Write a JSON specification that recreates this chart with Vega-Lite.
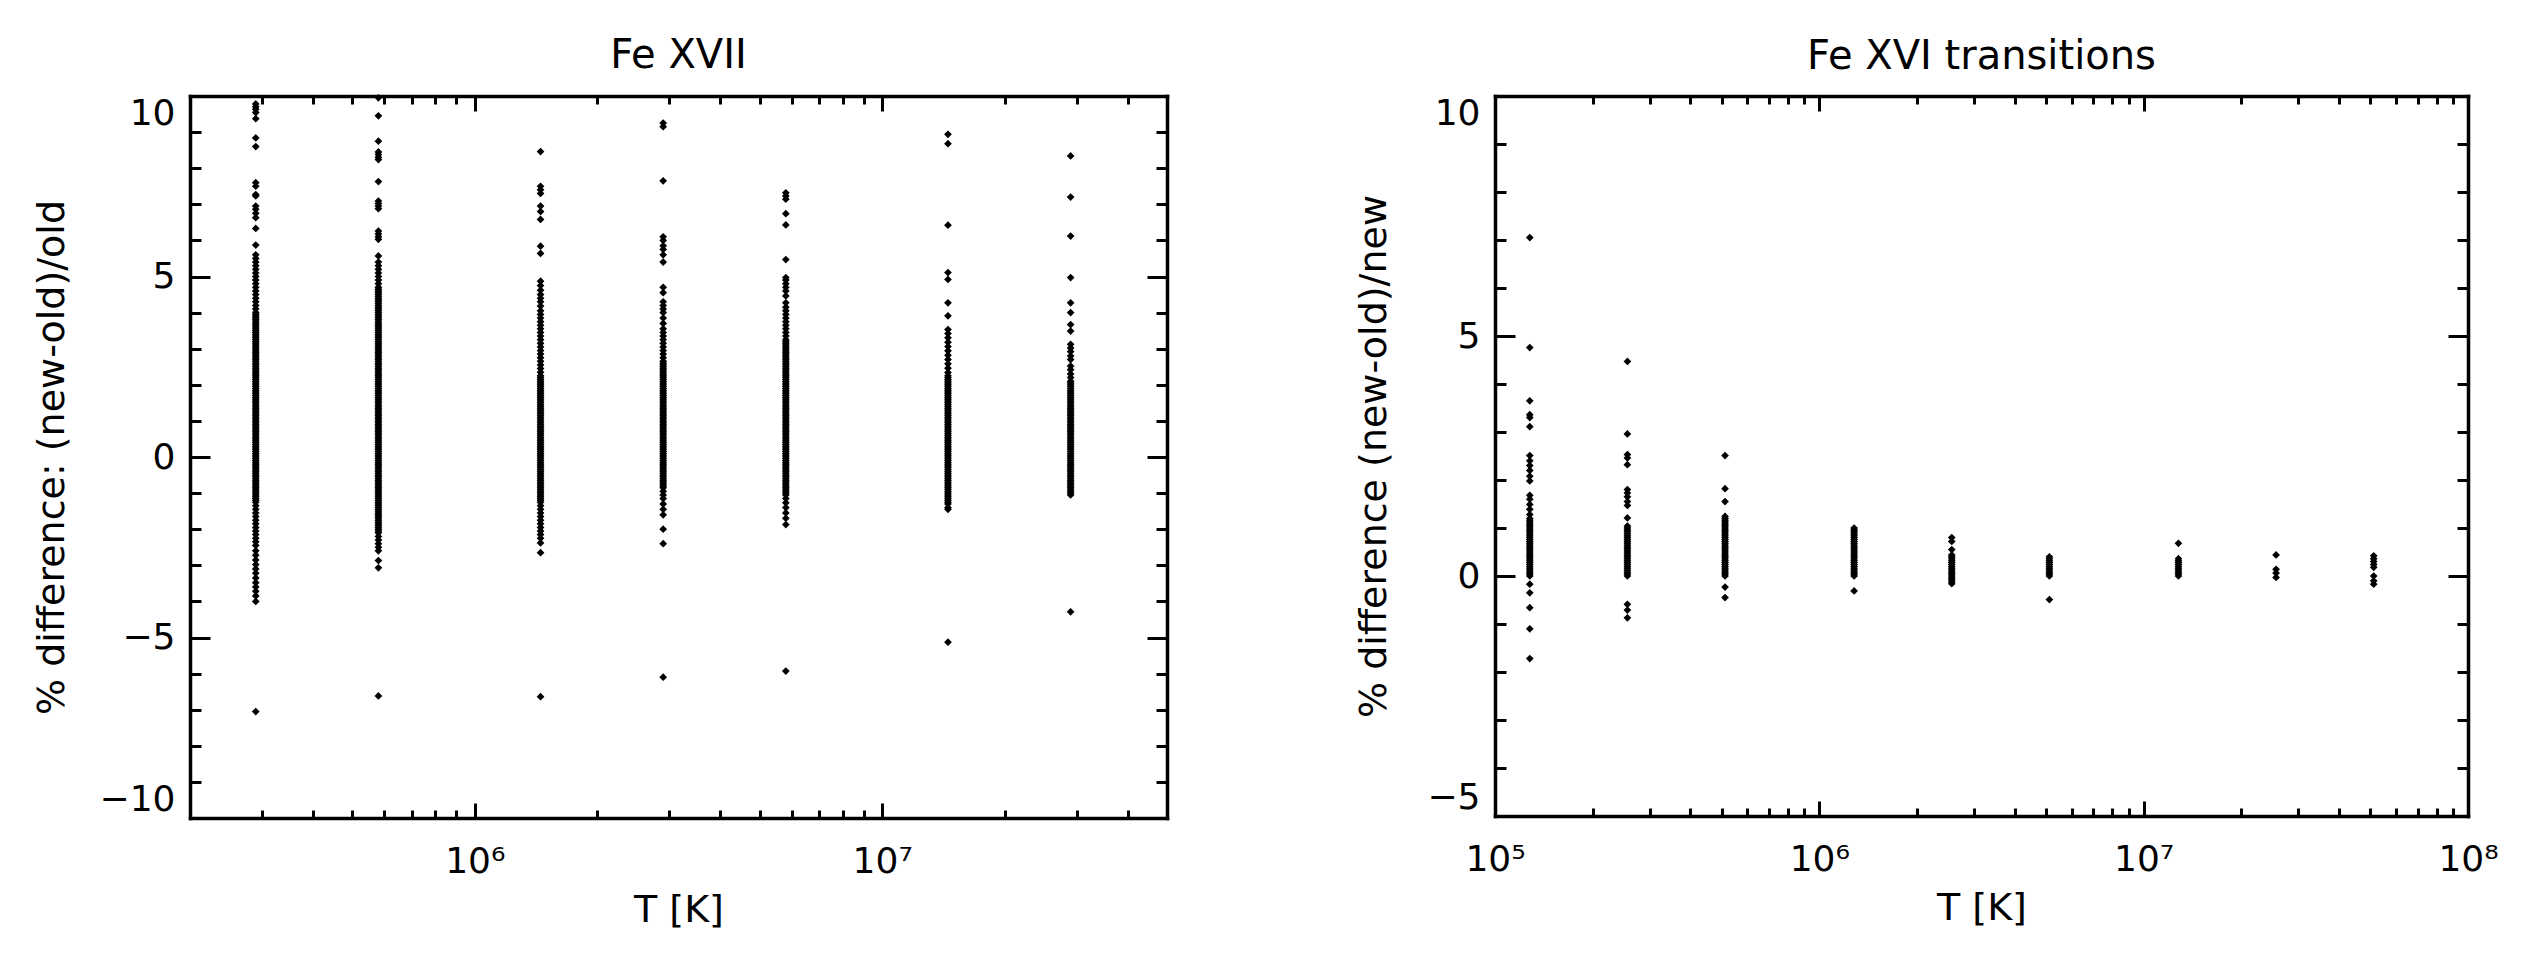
{
"$schema":"https://vega.github.io/schema/vega-lite/v6.json",
"background":"white",
"padding":{"left":33,"top":35,"right":5,"bottom":5},
"config":{
 "view":{"stroke":null},
 "font":"DejaVu Sans",
 "axis":{"grid":false,"domainColor":"black","domainWidth":3.5,"domainCap":"square","tickColor":"black","tickWidth":3,"labelColor":"black","titleColor":"black","labelFont":"DejaVu Sans","titleFont":"DejaVu Sans","labelFontSize":36,"titleFontSize":38,"titleFontWeight":"normal"},
 "title":{"font":"DejaVu Sans","fontSize":40,"fontWeight":"normal","color":"black","baseline":"alphabetic","offset":18,"anchor":"middle"}
},
"datasets":{
"fe17":[
{"T":29e4,"d":9.78},{"T":29e4,"d":9.7},{"T":29e4,"d":9.63},{"T":29e4,"d":9.54},{"T":29e4,"d":9.37},{"T":29e4,"d":8.84},{"T":29e4,"d":8.6},{"T":29e4,"d":7.6},{"T":29e4,"d":7.5},{"T":29e4,"d":7.27},{"T":29e4,"d":7.23},{"T":29e4,"d":6.95},{"T":29e4,"d":6.86},{"T":29e4,"d":6.75},{"T":29e4,"d":6.63},{"T":29e4,"d":6.33},{"T":29e4,"d":5.87},{"T":29e4,"d":5.6},{"T":29e4,"d":5.5},{"T":29e4,"d":5.4},{"T":29e4,"d":5.3},{"T":29e4,"d":5.2},{"T":29e4,"d":5.1},{"T":29e4,"d":5},{"T":29e4,"d":4.9},{"T":29e4,"d":4.8},{"T":29e4,"d":4.7},{"T":29e4,"d":4.6},{"T":29e4,"d":4.5},{"T":29e4,"d":4.4},{"T":29e4,"d":4.3},{"T":29e4,"d":4.2},{"T":29e4,"d":4.1},
{"T":29e4,"d":4},{"T":29e4,"d":3.95},{"T":29e4,"d":3.9},{"T":29e4,"d":3.85},{"T":29e4,"d":3.8},{"T":29e4,"d":3.75},{"T":29e4,"d":3.7},{"T":29e4,"d":3.65},{"T":29e4,"d":3.6},{"T":29e4,"d":3.55},{"T":29e4,"d":3.5},{"T":29e4,"d":3.45},{"T":29e4,"d":3.4},{"T":29e4,"d":3.35},{"T":29e4,"d":3.3},{"T":29e4,"d":3.25},{"T":29e4,"d":3.2},{"T":29e4,"d":3.15},{"T":29e4,"d":3.1},{"T":29e4,"d":3.05},{"T":29e4,"d":3},{"T":29e4,"d":2.95},{"T":29e4,"d":2.9},{"T":29e4,"d":2.85},{"T":29e4,"d":2.8},{"T":29e4,"d":2.75},{"T":29e4,"d":2.7},{"T":29e4,"d":2.65},{"T":29e4,"d":2.6},{"T":29e4,"d":2.55},{"T":29e4,"d":2.5},{"T":29e4,"d":2.45},{"T":29e4,"d":2.4},{"T":29e4,"d":2.35},{"T":29e4,"d":2.3},{"T":29e4,"d":2.25},{"T":29e4,"d":2.2},{"T":29e4,"d":2.15},{"T":29e4,"d":2.1},{"T":29e4,"d":2.05},{"T":29e4,"d":2},{"T":29e4,"d":1.95},{"T":29e4,"d":1.9},{"T":29e4,"d":1.85},{"T":29e4,"d":1.8},{"T":29e4,"d":1.75},{"T":29e4,"d":1.7},{"T":29e4,"d":1.65},{"T":29e4,"d":1.6},{"T":29e4,"d":1.55},{"T":29e4,"d":1.5},{"T":29e4,"d":1.45},{"T":29e4,"d":1.4},{"T":29e4,"d":1.35},{"T":29e4,"d":1.3},{"T":29e4,"d":1.25},{"T":29e4,"d":1.2},{"T":29e4,"d":1.15},{"T":29e4,"d":1.1},{"T":29e4,"d":1.05},{"T":29e4,"d":1},{"T":29e4,"d":0.95},{"T":29e4,"d":0.9},{"T":29e4,"d":0.85},{"T":29e4,"d":0.8},{"T":29e4,"d":0.75},{"T":29e4,"d":0.7},{"T":29e4,"d":0.65},{"T":29e4,"d":0.6},{"T":29e4,"d":0.55},{"T":29e4,"d":0.5},{"T":29e4,"d":0.45},{"T":29e4,"d":0.4},{"T":29e4,"d":0.35},{"T":29e4,"d":0.3},{"T":29e4,"d":0.25},{"T":29e4,"d":0.2},{"T":29e4,"d":0.15},{"T":29e4,"d":0.1},{"T":29e4,"d":0.05},{"T":29e4,"d":0},{"T":29e4,"d":-0.05},{"T":29e4,"d":-0.1},{"T":29e4,"d":-0.15},{"T":29e4,"d":-0.2},{"T":29e4,"d":-0.25},{"T":29e4,"d":-0.3},{"T":29e4,"d":-0.35},{"T":29e4,"d":-0.4},{"T":29e4,"d":-0.45},{"T":29e4,"d":-0.5},{"T":29e4,"d":-0.55},{"T":29e4,"d":-0.6},{"T":29e4,"d":-0.65},{"T":29e4,"d":-0.7},{"T":29e4,"d":-0.75},{"T":29e4,"d":-0.8},{"T":29e4,"d":-0.85},{"T":29e4,"d":-0.9},{"T":29e4,"d":-0.95},{"T":29e4,"d":-1},{"T":29e4,"d":-1.05},{"T":29e4,"d":-1.1},{"T":29e4,"d":-1.15},{"T":29e4,"d":-1.2},{"T":29e4,"d":-1.25},
{"T":29e4,"d":-1.35},{"T":29e4,"d":-1.45},{"T":29e4,"d":-1.55},{"T":29e4,"d":-1.65},{"T":29e4,"d":-1.75},{"T":29e4,"d":-1.85},{"T":29e4,"d":-1.95},{"T":29e4,"d":-2.05},{"T":29e4,"d":-2.15},{"T":29e4,"d":-2.25},{"T":29e4,"d":-2.35},{"T":29e4,"d":-2.45},{"T":29e4,"d":-2.6},{"T":29e4,"d":-2.72},{"T":29e4,"d":-2.85},{"T":29e4,"d":-2.98},{"T":29e4,"d":-3.1},{"T":29e4,"d":-3.22},{"T":29e4,"d":-3.35},{"T":29e4,"d":-3.48},{"T":29e4,"d":-3.6},{"T":29e4,"d":-3.72},{"T":29e4,"d":-3.85},{"T":29e4,"d":-4},{"T":29e4,"d":-7.05},

{"T":58e4,"d":9.95},{"T":58e4,"d":9.45},{"T":58e4,"d":8.75},{"T":58e4,"d":8.45},{"T":58e4,"d":8.38},{"T":58e4,"d":8.3},{"T":58e4,"d":8.24},{"T":58e4,"d":7.63},{"T":58e4,"d":7.09},{"T":58e4,"d":7.02},{"T":58e4,"d":6.95},{"T":58e4,"d":6.88},{"T":58e4,"d":6.26},{"T":58e4,"d":6.18},{"T":58e4,"d":6.1},{"T":58e4,"d":6.03},{"T":58e4,"d":5.57},{"T":58e4,"d":5.4},{"T":58e4,"d":5.3},{"T":58e4,"d":5.2},{"T":58e4,"d":5.1},{"T":58e4,"d":5},{"T":58e4,"d":4.9},{"T":58e4,"d":4.8},{"T":58e4,"d":4.7},
{"T":58e4,"d":4.65},{"T":58e4,"d":4.6},{"T":58e4,"d":4.55},{"T":58e4,"d":4.5},{"T":58e4,"d":4.45},{"T":58e4,"d":4.4},{"T":58e4,"d":4.35},{"T":58e4,"d":4.3},{"T":58e4,"d":4.25},{"T":58e4,"d":4.2},{"T":58e4,"d":4.15},{"T":58e4,"d":4.1},{"T":58e4,"d":4.05},{"T":58e4,"d":4},{"T":58e4,"d":3.95},{"T":58e4,"d":3.9},{"T":58e4,"d":3.85},{"T":58e4,"d":3.8},{"T":58e4,"d":3.75},{"T":58e4,"d":3.7},{"T":58e4,"d":3.65},{"T":58e4,"d":3.6},{"T":58e4,"d":3.55},{"T":58e4,"d":3.5},{"T":58e4,"d":3.45},{"T":58e4,"d":3.4},{"T":58e4,"d":3.35},{"T":58e4,"d":3.3},{"T":58e4,"d":3.25},{"T":58e4,"d":3.2},{"T":58e4,"d":3.15},{"T":58e4,"d":3.1},{"T":58e4,"d":3.05},{"T":58e4,"d":3},{"T":58e4,"d":2.95},{"T":58e4,"d":2.9},{"T":58e4,"d":2.85},{"T":58e4,"d":2.8},{"T":58e4,"d":2.75},{"T":58e4,"d":2.7},{"T":58e4,"d":2.65},{"T":58e4,"d":2.6},{"T":58e4,"d":2.55},{"T":58e4,"d":2.5},{"T":58e4,"d":2.45},{"T":58e4,"d":2.4},{"T":58e4,"d":2.35},{"T":58e4,"d":2.3},{"T":58e4,"d":2.25},{"T":58e4,"d":2.2},{"T":58e4,"d":2.15},{"T":58e4,"d":2.1},{"T":58e4,"d":2.05},{"T":58e4,"d":2},{"T":58e4,"d":1.95},{"T":58e4,"d":1.9},{"T":58e4,"d":1.85},{"T":58e4,"d":1.8},{"T":58e4,"d":1.75},{"T":58e4,"d":1.7},{"T":58e4,"d":1.65},{"T":58e4,"d":1.6},{"T":58e4,"d":1.55},{"T":58e4,"d":1.5},{"T":58e4,"d":1.45},{"T":58e4,"d":1.4},{"T":58e4,"d":1.35},{"T":58e4,"d":1.3},{"T":58e4,"d":1.25},{"T":58e4,"d":1.2},{"T":58e4,"d":1.15},{"T":58e4,"d":1.1},{"T":58e4,"d":1.05},{"T":58e4,"d":1},{"T":58e4,"d":0.95},{"T":58e4,"d":0.9},{"T":58e4,"d":0.85},{"T":58e4,"d":0.8},{"T":58e4,"d":0.75},{"T":58e4,"d":0.7},{"T":58e4,"d":0.65},{"T":58e4,"d":0.6},{"T":58e4,"d":0.55},{"T":58e4,"d":0.5},{"T":58e4,"d":0.45},{"T":58e4,"d":0.4},{"T":58e4,"d":0.35},{"T":58e4,"d":0.3},{"T":58e4,"d":0.25},{"T":58e4,"d":0.2},{"T":58e4,"d":0.15},{"T":58e4,"d":0.1},{"T":58e4,"d":0.05},{"T":58e4,"d":0},{"T":58e4,"d":-0.05},{"T":58e4,"d":-0.1},{"T":58e4,"d":-0.15},{"T":58e4,"d":-0.2},{"T":58e4,"d":-0.25},{"T":58e4,"d":-0.3},{"T":58e4,"d":-0.35},{"T":58e4,"d":-0.4},{"T":58e4,"d":-0.45},{"T":58e4,"d":-0.5},{"T":58e4,"d":-0.55},{"T":58e4,"d":-0.6},{"T":58e4,"d":-0.65},{"T":58e4,"d":-0.7},{"T":58e4,"d":-0.75},{"T":58e4,"d":-0.8},{"T":58e4,"d":-0.85},{"T":58e4,"d":-0.9},{"T":58e4,"d":-0.95},{"T":58e4,"d":-1},{"T":58e4,"d":-1.05},{"T":58e4,"d":-1.1},{"T":58e4,"d":-1.15},{"T":58e4,"d":-1.2},{"T":58e4,"d":-1.25},{"T":58e4,"d":-1.3},{"T":58e4,"d":-1.35},{"T":58e4,"d":-1.4},{"T":58e4,"d":-1.45},{"T":58e4,"d":-1.5},{"T":58e4,"d":-1.55},{"T":58e4,"d":-1.6},{"T":58e4,"d":-1.65},{"T":58e4,"d":-1.7},{"T":58e4,"d":-1.75},{"T":58e4,"d":-1.8},{"T":58e4,"d":-1.85},{"T":58e4,"d":-1.9},{"T":58e4,"d":-1.95},{"T":58e4,"d":-2},{"T":58e4,"d":-2.05},{"T":58e4,"d":-2.1},
{"T":58e4,"d":-2.2},{"T":58e4,"d":-2.3},{"T":58e4,"d":-2.4},{"T":58e4,"d":-2.5},{"T":58e4,"d":-2.6},{"T":58e4,"d":-2.87},{"T":58e4,"d":-3.07},{"T":58e4,"d":-6.62},

{"T":145e4,"d":8.46},{"T":145e4,"d":7.5},{"T":145e4,"d":7.4},{"T":145e4,"d":7.3},{"T":145e4,"d":6.95},{"T":145e4,"d":6.8},{"T":145e4,"d":6.58},{"T":145e4,"d":5.84},{"T":145e4,"d":5.64},{"T":145e4,"d":4.87},{"T":145e4,"d":4.75},{"T":145e4,"d":4.62},{"T":145e4,"d":4.5},{"T":145e4,"d":4.4},{"T":145e4,"d":4.3},{"T":145e4,"d":4.18},{"T":145e4,"d":4.05},{"T":145e4,"d":3.95},{"T":145e4,"d":3.85},{"T":145e4,"d":3.75},{"T":145e4,"d":3.65},{"T":145e4,"d":3.55},{"T":145e4,"d":3.45},{"T":145e4,"d":3.35},{"T":145e4,"d":3.25},{"T":145e4,"d":3.15},{"T":145e4,"d":3.05},{"T":145e4,"d":2.95},{"T":145e4,"d":2.85},{"T":145e4,"d":2.75},{"T":145e4,"d":2.65},{"T":145e4,"d":2.55},{"T":145e4,"d":2.45},{"T":145e4,"d":2.35},{"T":145e4,"d":2.25},
{"T":145e4,"d":2.2},{"T":145e4,"d":2.15},{"T":145e4,"d":2.1},{"T":145e4,"d":2.05},{"T":145e4,"d":2},{"T":145e4,"d":1.95},{"T":145e4,"d":1.9},{"T":145e4,"d":1.85},{"T":145e4,"d":1.8},{"T":145e4,"d":1.75},{"T":145e4,"d":1.7},{"T":145e4,"d":1.65},{"T":145e4,"d":1.6},{"T":145e4,"d":1.55},{"T":145e4,"d":1.5},{"T":145e4,"d":1.45},{"T":145e4,"d":1.4},{"T":145e4,"d":1.35},{"T":145e4,"d":1.3},{"T":145e4,"d":1.25},{"T":145e4,"d":1.2},{"T":145e4,"d":1.15},{"T":145e4,"d":1.1},{"T":145e4,"d":1.05},{"T":145e4,"d":1},{"T":145e4,"d":0.95},{"T":145e4,"d":0.9},{"T":145e4,"d":0.85},{"T":145e4,"d":0.8},{"T":145e4,"d":0.75},{"T":145e4,"d":0.7},{"T":145e4,"d":0.65},{"T":145e4,"d":0.6},{"T":145e4,"d":0.55},{"T":145e4,"d":0.5},{"T":145e4,"d":0.45},{"T":145e4,"d":0.4},{"T":145e4,"d":0.35},{"T":145e4,"d":0.3},{"T":145e4,"d":0.25},{"T":145e4,"d":0.2},{"T":145e4,"d":0.15},{"T":145e4,"d":0.1},{"T":145e4,"d":0.05},{"T":145e4,"d":0},{"T":145e4,"d":-0.05},{"T":145e4,"d":-0.1},{"T":145e4,"d":-0.15},{"T":145e4,"d":-0.2},{"T":145e4,"d":-0.25},{"T":145e4,"d":-0.3},{"T":145e4,"d":-0.35},{"T":145e4,"d":-0.4},{"T":145e4,"d":-0.45},{"T":145e4,"d":-0.5},{"T":145e4,"d":-0.55},{"T":145e4,"d":-0.6},{"T":145e4,"d":-0.65},{"T":145e4,"d":-0.7},{"T":145e4,"d":-0.75},{"T":145e4,"d":-0.8},{"T":145e4,"d":-0.85},{"T":145e4,"d":-0.9},{"T":145e4,"d":-0.95},{"T":145e4,"d":-1},{"T":145e4,"d":-1.05},{"T":145e4,"d":-1.1},{"T":145e4,"d":-1.15},{"T":145e4,"d":-1.2},{"T":145e4,"d":-1.25},
{"T":145e4,"d":-1.35},{"T":145e4,"d":-1.45},{"T":145e4,"d":-1.55},{"T":145e4,"d":-1.65},{"T":145e4,"d":-1.75},{"T":145e4,"d":-1.85},{"T":145e4,"d":-1.95},{"T":145e4,"d":-2.05},{"T":145e4,"d":-2.15},{"T":145e4,"d":-2.25},{"T":145e4,"d":-2.38},{"T":145e4,"d":-2.65},{"T":145e4,"d":-6.64},

{"T":29e5,"d":9.25},{"T":29e5,"d":9.15},{"T":29e5,"d":7.65},{"T":29e5,"d":6.1},{"T":29e5,"d":6},{"T":29e5,"d":5.85},{"T":29e5,"d":5.75},{"T":29e5,"d":5.6},{"T":29e5,"d":5.4},{"T":29e5,"d":4.7},{"T":29e5,"d":4.55},{"T":29e5,"d":4.3},{"T":29e5,"d":4.2},{"T":29e5,"d":4.1},{"T":29e5,"d":4},{"T":29e5,"d":3.85},{"T":29e5,"d":3.7},{"T":29e5,"d":3.55},{"T":29e5,"d":3.45},{"T":29e5,"d":3.35},{"T":29e5,"d":3.25},{"T":29e5,"d":3.15},{"T":29e5,"d":3.05},{"T":29e5,"d":2.95},{"T":29e5,"d":2.85},{"T":29e5,"d":2.75},
{"T":29e5,"d":2.65},{"T":29e5,"d":2.6},{"T":29e5,"d":2.55},{"T":29e5,"d":2.5},{"T":29e5,"d":2.45},{"T":29e5,"d":2.4},{"T":29e5,"d":2.35},{"T":29e5,"d":2.3},{"T":29e5,"d":2.25},{"T":29e5,"d":2.2},{"T":29e5,"d":2.15},{"T":29e5,"d":2.1},{"T":29e5,"d":2.05},{"T":29e5,"d":2},{"T":29e5,"d":1.95},{"T":29e5,"d":1.9},{"T":29e5,"d":1.85},{"T":29e5,"d":1.8},{"T":29e5,"d":1.75},{"T":29e5,"d":1.7},{"T":29e5,"d":1.65},{"T":29e5,"d":1.6},{"T":29e5,"d":1.55},{"T":29e5,"d":1.5},{"T":29e5,"d":1.45},{"T":29e5,"d":1.4},{"T":29e5,"d":1.35},{"T":29e5,"d":1.3},{"T":29e5,"d":1.25},{"T":29e5,"d":1.2},{"T":29e5,"d":1.15},{"T":29e5,"d":1.1},{"T":29e5,"d":1.05},{"T":29e5,"d":1},{"T":29e5,"d":0.95},{"T":29e5,"d":0.9},{"T":29e5,"d":0.85},{"T":29e5,"d":0.8},{"T":29e5,"d":0.75},{"T":29e5,"d":0.7},{"T":29e5,"d":0.65},{"T":29e5,"d":0.6},{"T":29e5,"d":0.55},{"T":29e5,"d":0.5},{"T":29e5,"d":0.45},{"T":29e5,"d":0.4},{"T":29e5,"d":0.35},{"T":29e5,"d":0.3},{"T":29e5,"d":0.25},{"T":29e5,"d":0.2},{"T":29e5,"d":0.15},{"T":29e5,"d":0.1},{"T":29e5,"d":0.05},{"T":29e5,"d":0},{"T":29e5,"d":-0.05},{"T":29e5,"d":-0.1},{"T":29e5,"d":-0.15},{"T":29e5,"d":-0.2},{"T":29e5,"d":-0.25},{"T":29e5,"d":-0.3},{"T":29e5,"d":-0.35},{"T":29e5,"d":-0.4},{"T":29e5,"d":-0.45},{"T":29e5,"d":-0.5},{"T":29e5,"d":-0.55},{"T":29e5,"d":-0.6},{"T":29e5,"d":-0.65},{"T":29e5,"d":-0.7},{"T":29e5,"d":-0.75},{"T":29e5,"d":-0.8},{"T":29e5,"d":-0.85},
{"T":29e5,"d":-0.95},{"T":29e5,"d":-1.05},{"T":29e5,"d":-1.15},{"T":29e5,"d":-1.3},{"T":29e5,"d":-1.45},{"T":29e5,"d":-1.6},{"T":29e5,"d":-2},{"T":29e5,"d":-2.4},{"T":29e5,"d":-6.1},

{"T":58e5,"d":7.32},{"T":58e5,"d":7.23},{"T":58e5,"d":7.14},{"T":58e5,"d":6.74},{"T":58e5,"d":6.43},{"T":58e5,"d":5.47},{"T":58e5,"d":4.97},{"T":58e5,"d":4.9},{"T":58e5,"d":4.8},{"T":58e5,"d":4.7},{"T":58e5,"d":4.6},{"T":58e5,"d":4.46},{"T":58e5,"d":4.27},{"T":58e5,"d":4.15},{"T":58e5,"d":4.05},{"T":58e5,"d":3.95},{"T":58e5,"d":3.85},{"T":58e5,"d":3.75},{"T":58e5,"d":3.65},{"T":58e5,"d":3.55},{"T":58e5,"d":3.45},{"T":58e5,"d":3.35},
{"T":58e5,"d":3.25},{"T":58e5,"d":3.2},{"T":58e5,"d":3.15},{"T":58e5,"d":3.1},{"T":58e5,"d":3.05},{"T":58e5,"d":3},{"T":58e5,"d":2.95},{"T":58e5,"d":2.9},{"T":58e5,"d":2.85},{"T":58e5,"d":2.8},{"T":58e5,"d":2.75},{"T":58e5,"d":2.7},{"T":58e5,"d":2.65},{"T":58e5,"d":2.6},{"T":58e5,"d":2.55},{"T":58e5,"d":2.5},{"T":58e5,"d":2.45},{"T":58e5,"d":2.4},{"T":58e5,"d":2.35},{"T":58e5,"d":2.3},{"T":58e5,"d":2.25},{"T":58e5,"d":2.2},{"T":58e5,"d":2.15},{"T":58e5,"d":2.1},{"T":58e5,"d":2.05},{"T":58e5,"d":2},{"T":58e5,"d":1.95},{"T":58e5,"d":1.9},{"T":58e5,"d":1.85},{"T":58e5,"d":1.8},{"T":58e5,"d":1.75},{"T":58e5,"d":1.7},{"T":58e5,"d":1.65},{"T":58e5,"d":1.6},{"T":58e5,"d":1.55},{"T":58e5,"d":1.5},{"T":58e5,"d":1.45},{"T":58e5,"d":1.4},{"T":58e5,"d":1.35},{"T":58e5,"d":1.3},{"T":58e5,"d":1.25},{"T":58e5,"d":1.2},{"T":58e5,"d":1.15},{"T":58e5,"d":1.1},{"T":58e5,"d":1.05},{"T":58e5,"d":1},{"T":58e5,"d":0.95},{"T":58e5,"d":0.9},{"T":58e5,"d":0.85},{"T":58e5,"d":0.8},{"T":58e5,"d":0.75},{"T":58e5,"d":0.7},{"T":58e5,"d":0.65},{"T":58e5,"d":0.6},{"T":58e5,"d":0.55},{"T":58e5,"d":0.5},{"T":58e5,"d":0.45},{"T":58e5,"d":0.4},{"T":58e5,"d":0.35},{"T":58e5,"d":0.3},{"T":58e5,"d":0.25},{"T":58e5,"d":0.2},{"T":58e5,"d":0.15},{"T":58e5,"d":0.1},{"T":58e5,"d":0.05},{"T":58e5,"d":0},{"T":58e5,"d":-0.05},{"T":58e5,"d":-0.1},{"T":58e5,"d":-0.15},{"T":58e5,"d":-0.2},{"T":58e5,"d":-0.25},{"T":58e5,"d":-0.3},{"T":58e5,"d":-0.35},{"T":58e5,"d":-0.4},{"T":58e5,"d":-0.45},{"T":58e5,"d":-0.5},{"T":58e5,"d":-0.55},{"T":58e5,"d":-0.6},{"T":58e5,"d":-0.65},{"T":58e5,"d":-0.7},{"T":58e5,"d":-0.75},{"T":58e5,"d":-0.8},{"T":58e5,"d":-0.85},{"T":58e5,"d":-0.9},{"T":58e5,"d":-0.95},{"T":58e5,"d":-1},{"T":58e5,"d":-1.05},
{"T":58e5,"d":-1.15},{"T":58e5,"d":-1.27},{"T":58e5,"d":-1.4},{"T":58e5,"d":-1.55},{"T":58e5,"d":-1.7},{"T":58e5,"d":-1.87},{"T":58e5,"d":-5.93},

{"T":145e5,"d":8.94},{"T":145e5,"d":8.68},{"T":145e5,"d":6.42},{"T":145e5,"d":5.11},{"T":145e5,"d":4.92},{"T":145e5,"d":4.27},{"T":145e5,"d":3.91},{"T":145e5,"d":3.53},{"T":145e5,"d":3.42},{"T":145e5,"d":3.3},{"T":145e5,"d":3.18},{"T":145e5,"d":3.06},{"T":145e5,"d":2.94},{"T":145e5,"d":2.82},{"T":145e5,"d":2.7},{"T":145e5,"d":2.58},{"T":145e5,"d":2.46},{"T":145e5,"d":2.34},
{"T":145e5,"d":2.25},{"T":145e5,"d":2.2},{"T":145e5,"d":2.15},{"T":145e5,"d":2.1},{"T":145e5,"d":2.05},{"T":145e5,"d":2},{"T":145e5,"d":1.95},{"T":145e5,"d":1.9},{"T":145e5,"d":1.85},{"T":145e5,"d":1.8},{"T":145e5,"d":1.75},{"T":145e5,"d":1.7},{"T":145e5,"d":1.65},{"T":145e5,"d":1.6},{"T":145e5,"d":1.55},{"T":145e5,"d":1.5},{"T":145e5,"d":1.45},{"T":145e5,"d":1.4},{"T":145e5,"d":1.35},{"T":145e5,"d":1.3},{"T":145e5,"d":1.25},{"T":145e5,"d":1.2},{"T":145e5,"d":1.15},{"T":145e5,"d":1.1},{"T":145e5,"d":1.05},{"T":145e5,"d":1},{"T":145e5,"d":0.95},{"T":145e5,"d":0.9},{"T":145e5,"d":0.85},{"T":145e5,"d":0.8},{"T":145e5,"d":0.75},{"T":145e5,"d":0.7},{"T":145e5,"d":0.65},{"T":145e5,"d":0.6},{"T":145e5,"d":0.55},{"T":145e5,"d":0.5},{"T":145e5,"d":0.45},{"T":145e5,"d":0.4},{"T":145e5,"d":0.35},{"T":145e5,"d":0.3},{"T":145e5,"d":0.25},{"T":145e5,"d":0.2},{"T":145e5,"d":0.15},{"T":145e5,"d":0.1},{"T":145e5,"d":0.05},{"T":145e5,"d":0},{"T":145e5,"d":-0.05},{"T":145e5,"d":-0.1},{"T":145e5,"d":-0.15},{"T":145e5,"d":-0.2},{"T":145e5,"d":-0.25},{"T":145e5,"d":-0.3},{"T":145e5,"d":-0.35},{"T":145e5,"d":-0.4},{"T":145e5,"d":-0.45},{"T":145e5,"d":-0.5},{"T":145e5,"d":-0.55},{"T":145e5,"d":-0.6},{"T":145e5,"d":-0.65},{"T":145e5,"d":-0.7},{"T":145e5,"d":-0.75},{"T":145e5,"d":-0.8},{"T":145e5,"d":-0.85},{"T":145e5,"d":-0.9},{"T":145e5,"d":-0.95},{"T":145e5,"d":-1},{"T":145e5,"d":-1.05},{"T":145e5,"d":-1.1},{"T":145e5,"d":-1.15},{"T":145e5,"d":-1.2},{"T":145e5,"d":-1.25},{"T":145e5,"d":-1.3},
{"T":145e5,"d":-1.4},{"T":145e5,"d":-1.45},{"T":145e5,"d":-5.13},

{"T":29e6,"d":8.34},{"T":29e6,"d":7.2},{"T":29e6,"d":6.12},{"T":29e6,"d":4.97},{"T":29e6,"d":4.27},{"T":29e6,"d":4},{"T":29e6,"d":3.67},{"T":29e6,"d":3.49},{"T":29e6,"d":3.12},{"T":29e6,"d":3.02},{"T":29e6,"d":2.92},{"T":29e6,"d":2.8},{"T":29e6,"d":2.7},{"T":29e6,"d":2.52},{"T":29e6,"d":2.42},{"T":29e6,"d":2.3},{"T":29e6,"d":2.2},{"T":29e6,"d":2.1},
{"T":29e6,"d":2.05},{"T":29e6,"d":2},{"T":29e6,"d":1.95},{"T":29e6,"d":1.9},{"T":29e6,"d":1.85},{"T":29e6,"d":1.8},{"T":29e6,"d":1.75},{"T":29e6,"d":1.7},{"T":29e6,"d":1.65},{"T":29e6,"d":1.6},{"T":29e6,"d":1.55},{"T":29e6,"d":1.5},{"T":29e6,"d":1.45},{"T":29e6,"d":1.4},{"T":29e6,"d":1.35},{"T":29e6,"d":1.3},{"T":29e6,"d":1.25},{"T":29e6,"d":1.2},{"T":29e6,"d":1.15},{"T":29e6,"d":1.1},{"T":29e6,"d":1.05},{"T":29e6,"d":1},{"T":29e6,"d":0.95},{"T":29e6,"d":0.9},{"T":29e6,"d":0.85},{"T":29e6,"d":0.8},{"T":29e6,"d":0.75},{"T":29e6,"d":0.7},{"T":29e6,"d":0.65},{"T":29e6,"d":0.6},{"T":29e6,"d":0.55},{"T":29e6,"d":0.5},{"T":29e6,"d":0.45},{"T":29e6,"d":0.4},{"T":29e6,"d":0.35},{"T":29e6,"d":0.3},{"T":29e6,"d":0.25},{"T":29e6,"d":0.2},{"T":29e6,"d":0.15},{"T":29e6,"d":0.1},{"T":29e6,"d":0.05},{"T":29e6,"d":0},{"T":29e6,"d":-0.05},{"T":29e6,"d":-0.1},{"T":29e6,"d":-0.15},{"T":29e6,"d":-0.2},{"T":29e6,"d":-0.25},{"T":29e6,"d":-0.3},{"T":29e6,"d":-0.35},{"T":29e6,"d":-0.4},{"T":29e6,"d":-0.45},{"T":29e6,"d":-0.5},{"T":29e6,"d":-0.55},{"T":29e6,"d":-0.6},{"T":29e6,"d":-0.65},{"T":29e6,"d":-0.7},{"T":29e6,"d":-0.75},{"T":29e6,"d":-0.8},{"T":29e6,"d":-0.85},{"T":29e6,"d":-0.9},{"T":29e6,"d":-0.95},{"T":29e6,"d":-1},{"T":29e6,"d":-1.05},{"T":29e6,"d":-4.29}
],
"fe16":[
{"T":128e3,"d":7.05},{"T":128e3,"d":4.76},{"T":128e3,"d":3.65},{"T":128e3,"d":3.36},{"T":128e3,"d":3.3},{"T":128e3,"d":3.11},{"T":128e3,"d":2.51},{"T":128e3,"d":2.4},{"T":128e3,"d":2.3},{"T":128e3,"d":2.2},{"T":128e3,"d":2.08},{"T":128e3,"d":1.98},{"T":128e3,"d":1.68},{"T":128e3,"d":1.6},{"T":128e3,"d":1.49},{"T":128e3,"d":1.39},{"T":128e3,"d":1.28},
{"T":128e3,"d":1.2},{"T":128e3,"d":1.16},{"T":128e3,"d":1.12},{"T":128e3,"d":1.08},{"T":128e3,"d":1.04},{"T":128e3,"d":1},{"T":128e3,"d":0.96},{"T":128e3,"d":0.92},{"T":128e3,"d":0.88},{"T":128e3,"d":0.84},{"T":128e3,"d":0.8},{"T":128e3,"d":0.76},{"T":128e3,"d":0.72},{"T":128e3,"d":0.68},{"T":128e3,"d":0.64},{"T":128e3,"d":0.6},{"T":128e3,"d":0.56},{"T":128e3,"d":0.52},{"T":128e3,"d":0.48},{"T":128e3,"d":0.44},{"T":128e3,"d":0.4},{"T":128e3,"d":0.36},{"T":128e3,"d":0.32},{"T":128e3,"d":0.28},{"T":128e3,"d":0.24},{"T":128e3,"d":0.2},{"T":128e3,"d":0.16},{"T":128e3,"d":0.12},{"T":128e3,"d":0.08},{"T":128e3,"d":0.04},{"T":128e3,"d":0},
{"T":128e3,"d":-0.17},{"T":128e3,"d":-0.35},{"T":128e3,"d":-0.66},{"T":128e3,"d":-1.1},{"T":128e3,"d":-1.72},

{"T":256e3,"d":4.47},{"T":256e3,"d":2.96},{"T":256e3,"d":2.53},{"T":256e3,"d":2.46},{"T":256e3,"d":2.32},{"T":256e3,"d":1.8},{"T":256e3,"d":1.73},{"T":256e3,"d":1.65},{"T":256e3,"d":1.55},{"T":256e3,"d":1.47},{"T":256e3,"d":1.21},
{"T":256e3,"d":1.04},{"T":256e3,"d":1},{"T":256e3,"d":0.96},{"T":256e3,"d":0.92},{"T":256e3,"d":0.88},{"T":256e3,"d":0.84},{"T":256e3,"d":0.8},{"T":256e3,"d":0.76},{"T":256e3,"d":0.72},{"T":256e3,"d":0.68},{"T":256e3,"d":0.64},{"T":256e3,"d":0.6},{"T":256e3,"d":0.56},{"T":256e3,"d":0.52},{"T":256e3,"d":0.48},{"T":256e3,"d":0.44},{"T":256e3,"d":0.4},{"T":256e3,"d":0.36},{"T":256e3,"d":0.32},{"T":256e3,"d":0.28},{"T":256e3,"d":0.24},{"T":256e3,"d":0.2},{"T":256e3,"d":0.16},{"T":256e3,"d":0.12},{"T":256e3,"d":0.08},{"T":256e3,"d":0.04},{"T":256e3,"d":0},
{"T":256e3,"d":-0.59},{"T":256e3,"d":-0.71},{"T":256e3,"d":-0.87},

{"T":512e3,"d":2.51},{"T":512e3,"d":1.82},{"T":512e3,"d":1.55},
{"T":512e3,"d":1.24},{"T":512e3,"d":1.2},{"T":512e3,"d":1.16},{"T":512e3,"d":1.12},{"T":512e3,"d":1.08},{"T":512e3,"d":1.04},{"T":512e3,"d":1},{"T":512e3,"d":0.96},{"T":512e3,"d":0.92},{"T":512e3,"d":0.88},{"T":512e3,"d":0.84},{"T":512e3,"d":0.8},{"T":512e3,"d":0.76},{"T":512e3,"d":0.72},{"T":512e3,"d":0.68},{"T":512e3,"d":0.64},{"T":512e3,"d":0.6},{"T":512e3,"d":0.56},{"T":512e3,"d":0.52},{"T":512e3,"d":0.48},{"T":512e3,"d":0.44},{"T":512e3,"d":0.4},{"T":512e3,"d":0.36},{"T":512e3,"d":0.32},{"T":512e3,"d":0.28},{"T":512e3,"d":0.24},{"T":512e3,"d":0.2},{"T":512e3,"d":0.16},{"T":512e3,"d":0.12},{"T":512e3,"d":0.08},{"T":512e3,"d":0.04},{"T":512e3,"d":0},
{"T":512e3,"d":-0.23},{"T":512e3,"d":-0.45},

{"T":128e4,"d":1},{"T":128e4,"d":0.96},{"T":128e4,"d":0.92},{"T":128e4,"d":0.88},{"T":128e4,"d":0.84},{"T":128e4,"d":0.8},{"T":128e4,"d":0.76},{"T":128e4,"d":0.72},{"T":128e4,"d":0.68},{"T":128e4,"d":0.64},{"T":128e4,"d":0.6},{"T":128e4,"d":0.56},{"T":128e4,"d":0.52},{"T":128e4,"d":0.48},{"T":128e4,"d":0.44},{"T":128e4,"d":0.4},{"T":128e4,"d":0.36},{"T":128e4,"d":0.32},{"T":128e4,"d":0.28},{"T":128e4,"d":0.24},{"T":128e4,"d":0.2},{"T":128e4,"d":0.16},{"T":128e4,"d":0.12},{"T":128e4,"d":0.08},{"T":128e4,"d":0.04},{"T":128e4,"d":0},{"T":128e4,"d":-0.31},

{"T":256e4,"d":0.8},{"T":256e4,"d":0.72},{"T":256e4,"d":0.55},{"T":256e4,"d":0.44},{"T":256e4,"d":0.4},{"T":256e4,"d":0.36},{"T":256e4,"d":0.32},{"T":256e4,"d":0.28},{"T":256e4,"d":0.24},{"T":256e4,"d":0.2},{"T":256e4,"d":0.16},{"T":256e4,"d":0.12},{"T":256e4,"d":0.08},{"T":256e4,"d":0.04},{"T":256e4,"d":0},{"T":256e4,"d":-0.04},{"T":256e4,"d":-0.08},{"T":256e4,"d":-0.12},{"T":256e4,"d":-0.16},

{"T":512e4,"d":0.4},{"T":512e4,"d":0.36},{"T":512e4,"d":0.32},{"T":512e4,"d":0.28},{"T":512e4,"d":0.24},{"T":512e4,"d":0.2},{"T":512e4,"d":0.16},{"T":512e4,"d":0.12},{"T":512e4,"d":0.08},{"T":512e4,"d":0.04},{"T":512e4,"d":0},{"T":512e4,"d":-0.49},

{"T":128e5,"d":0.68},{"T":128e5,"d":0.36},{"T":128e5,"d":0.32},{"T":128e5,"d":0.28},{"T":128e5,"d":0.24},{"T":128e5,"d":0.2},{"T":128e5,"d":0.16},{"T":128e5,"d":0.12},{"T":128e5,"d":0.08},{"T":128e5,"d":0.04},{"T":128e5,"d":0},

{"T":256e5,"d":0.44},{"T":256e5,"d":0.14},{"T":256e5,"d":0.06},{"T":256e5,"d":-0.03},

{"T":512e5,"d":0.42},{"T":512e5,"d":0.36},{"T":512e5,"d":0.3},{"T":512e5,"d":0.24},{"T":512e5,"d":0.18},{"T":512e5,"d":0},{"T":512e5,"d":-0.1},{"T":512e5,"d":-0.17}
]
},
"bounds":"flush",
"spacing":328,
"hconcat":[
{
 "title":"Fe XVII",
 "width":977,"height":722,
 "resolve":{"axis":{"x":"independent","y":"independent"}},
 "layer":[
  {"data":{"name":"fe17"},
   "mark":{"type":"point","shape":"diamond","filled":true,"size":60,"color":"black","opacity":1},
   "encoding":{
    "x":{"field":"T","type":"quantitative","scale":{"type":"log","domain":[2e5,5e7],"nice":false},
     "axis":{"orient":"bottom","values":[1e6,1e7],"tickSize":-15,"labelPadding":41,"labelFlush":false,"labelExpr":"datum.value < 5e5 ? '10⁵' : datum.value < 5e6 ? '10⁶' : datum.value < 5e7 ? '10⁷' : '10⁸'","title":"T [K]","titlePadding":12}},
    "y":{"field":"d","type":"quantitative","scale":{"domain":[-10,10],"nice":false,"zero":false},
     "axis":{"orient":"left","values":[-10,-5,0,5,10],"tickSize":-20,"labelPadding":35,"labelFlush":true,"title":"% difference: (new-old)/old","titlePadding":28}}
   }},
  {"data":{"values":[{"T":1e6,"d":0}]},
   "mark":{"type":"point","opacity":0},
   "encoding":{
    "x":{"field":"T","type":"quantitative","scale":{"type":"log"},
     "axis":{"orient":"bottom","values":[3e5,4e5,5e5,6e5,7e5,8e5,9e5,2e6,3e6,4e6,5e6,6e6,7e6,8e6,9e6,2e7,3e7,4e7],"tickSize":-8,"labels":false,"domain":false,"title":null}},
    "y":{"field":"d","type":"quantitative",
     "axis":{"orient":"left","values":[-9,-8,-7,-6,-4,-3,-2,-1,1,2,3,4,6,7,8,9],"tickSize":-11,"labels":false,"domain":false,"title":null}}
   }},
  {"data":{"values":[{"T":1e6,"d":0}]},
   "mark":{"type":"point","opacity":0},
   "encoding":{
    "x":{"field":"T","type":"quantitative","scale":{"type":"log"},
     "axis":{"orient":"top","values":[1e6,1e7],"tickSize":-15,"labels":false,"domain":true,"title":null}},
    "y":{"field":"d","type":"quantitative",
     "axis":{"orient":"right","values":[-10,-5,0,5,10],"tickSize":-20,"labels":false,"domain":true,"title":null}}
   }},
  {"data":{"values":[{"T":1e6,"d":0}]},
   "mark":{"type":"point","opacity":0},
   "encoding":{
    "x":{"field":"T","type":"quantitative","scale":{"type":"log"},
     "axis":{"orient":"top","values":[3e5,4e5,5e5,6e5,7e5,8e5,9e5,2e6,3e6,4e6,5e6,6e6,7e6,8e6,9e6,2e7,3e7,4e7],"tickSize":-8,"labels":false,"domain":false,"title":null}},
    "y":{"field":"d","type":"quantitative",
     "axis":{"orient":"right","values":[-9,-8,-7,-6,-4,-3,-2,-1,1,2,3,4,6,7,8,9],"tickSize":-11,"labels":false,"domain":false,"title":null}}
   }}
 ]
},
{
 "title":"Fe XVI transitions",
 "width":973,"height":720,
 "resolve":{"axis":{"x":"independent","y":"independent"}},
 "layer":[
  {"data":{"name":"fe16"},
   "mark":{"type":"point","shape":"diamond","filled":true,"size":60,"color":"black","opacity":1},
   "encoding":{
    "x":{"field":"T","type":"quantitative","scale":{"type":"log","domain":[1e5,1e8],"nice":false},
     "axis":{"orient":"bottom","values":[1e5,1e6,1e7,1e8],"tickSize":-15,"labelPadding":41,"labelFlush":false,"labelExpr":"datum.value < 5e5 ? '10⁵' : datum.value < 5e6 ? '10⁶' : datum.value < 5e7 ? '10⁷' : '10⁸'","title":"T [K]","titlePadding":12}},
    "y":{"field":"d","type":"quantitative","scale":{"domain":[-5,10],"nice":false,"zero":false},
     "axis":{"orient":"left","values":[-5,0,5,10],"tickSize":-20,"labelPadding":35,"labelFlush":true,"title":"% difference (new-old)/new","titlePadding":33}}
   }},
  {"data":{"values":[{"T":1e6,"d":0}]},
   "mark":{"type":"point","opacity":0},
   "encoding":{
    "x":{"field":"T","type":"quantitative","scale":{"type":"log"},
     "axis":{"orient":"bottom","values":[2e5,3e5,4e5,5e5,6e5,7e5,8e5,9e5,2e6,3e6,4e6,5e6,6e6,7e6,8e6,9e6,2e7,3e7,4e7,5e7,6e7,7e7,8e7,9e7],"tickSize":-8,"labels":false,"domain":false,"title":null}},
    "y":{"field":"d","type":"quantitative",
     "axis":{"orient":"left","values":[-4,-3,-2,-1,1,2,3,4,6,7,8,9],"tickSize":-11,"labels":false,"domain":false,"title":null}}
   }},
  {"data":{"values":[{"T":1e6,"d":0}]},
   "mark":{"type":"point","opacity":0},
   "encoding":{
    "x":{"field":"T","type":"quantitative","scale":{"type":"log"},
     "axis":{"orient":"top","values":[1e5,1e6,1e7,1e8],"tickSize":-15,"labels":false,"domain":true,"title":null}},
    "y":{"field":"d","type":"quantitative",
     "axis":{"orient":"right","values":[-5,0,5,10],"tickSize":-20,"labels":false,"domain":true,"title":null}}
   }},
  {"data":{"values":[{"T":1e6,"d":0}]},
   "mark":{"type":"point","opacity":0},
   "encoding":{
    "x":{"field":"T","type":"quantitative","scale":{"type":"log"},
     "axis":{"orient":"top","values":[2e5,3e5,4e5,5e5,6e5,7e5,8e5,9e5,2e6,3e6,4e6,5e6,6e6,7e6,8e6,9e6,2e7,3e7,4e7,5e7,6e7,7e7,8e7,9e7],"tickSize":-8,"labels":false,"domain":false,"title":null}},
    "y":{"field":"d","type":"quantitative",
     "axis":{"orient":"right","values":[-4,-3,-2,-1,1,2,3,4,6,7,8,9],"tickSize":-11,"labels":false,"domain":false,"title":null}}
   }}
 ]
}
]
}
